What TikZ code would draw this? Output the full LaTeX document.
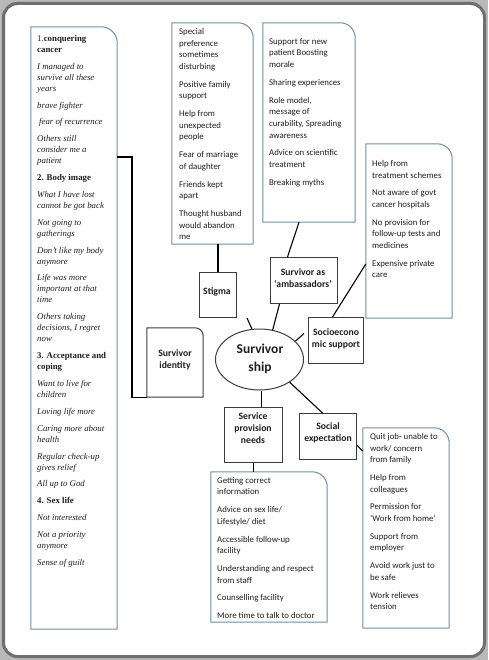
\documentclass[tikz,border=0pt]{standalone}
\usepackage{fontspec}
\setmainfont{Liberation Serif}
\newfontfamily\carl{Carlito}
\usetikzlibrary{fit,shapes.geometric}
\definecolor{boxblue}{RGB}{110,144,170}
\definecolor{boxgray}{RGB}{60,60,60}
\definecolor{framegray}{RGB}{110,110,110}
\definecolor{outgray}{RGB}{185,185,185}
\definecolor{txt}{RGB}{30,30,30}
\newcommand{\ibox}[7][15]{%
  \coordinate (#3-nw) at (#4,#5);
  \coordinate (#3-se) at (#6,#7);
  \node[fit=(#3-nw)(#3-se), inner sep=0pt] (#3) {};
  \draw[#2] (#3.south west) -- (#3.north west) -- ([xshift=-#1pt]#3.north east)
     .. controls ([xshift={-0.45*#1pt}]#3.north east) and ([yshift={-0.45*#1pt}]#3.north east) .. ([yshift=-#1pt]#3.north east) -- (#3.south east) -- cycle;
}
\newcommand{\pgl}{\\[5.85pt]}
\newcommand{\pgs}{\\[6pt]}
\begin{document}
\begin{tikzpicture}[x=1pt,y=-1pt,
  itembox/.style={draw=boxblue, line width=1pt},
  labbox/.style={draw=boxgray, line width=1pt},
  conn/.style={draw=black, line width=1.1pt},
  itemtxt/.style={anchor=north west, inner sep=0pt, align=left, text=txt, font=\carl\fontsize{8.8}{11.7}\selectfont},
  littxt/.style={anchor=north west, inner sep=0pt, align=left, text=txt, font=\fontsize{8.8}{11}\selectfont},
  labtxt/.style={inner sep=0pt, align=center, text=txt, font=\carl\bfseries\fontsize{9.7}{12}\selectfont},
  lab/.style={labbox, anchor=north west, inner sep=0pt}]
\useasboundingbox (0,0) rectangle (488,660);
\fill[outgray] (0,0) rectangle (488,660);
\fill[white, rounded corners=14pt] (3.5,3.5) rectangle (484.5,656.5);
\draw[framegray, line width=3pt, rounded corners=14pt] (3.5,3.5) rectangle (484.5,656.5);

% item boxes
\ibox[16]{itembox}{lp}{31}{27}{117}{629}
\ibox{itembox}{stbox}{172}{23}{253}{244}
\ibox{itembox}{ambbox}{263}{23}{355}{222}
\ibox{itembox}{socbox}{366}{144}{452}{318}
\ibox{itembox}{svbox}{211}{472}{327}{622}
\ibox{itembox}{sebox}{363}{428}{449}{628}
\ibox[8]{labbox}{ident}{147}{328}{203}{397}

% item texts
\node[littxt] (lptxt) at (37,35) {%
1.\textbf{conquering}\\ \textbf{cancer}\pgl
\textit{I managed to}\\ \textit{survive all these}\\ \textit{years}\pgl
\textit{brave fighter}\pgl
\hspace{2pt}\textit{fear of recurrence}\pgl
\textit{Others still}\\ \textit{consider me a}\\ \textit{patient}\pgl
\textbf{2. Body image}\pgl
\textit{What I have lost}\\ \textit{cannot be got back}\pgl
\textit{Not going to}\\ \textit{gatherings}\pgl
\textit{Don’t like my body}\\ \textit{anymore}\pgl
\textit{Life was more}\\ \textit{important at that}\\ \textit{time}\pgl
\textit{Others taking}\\ \textit{decisions, I regret}\\ \textit{now}\pgl
\textbf{3. Acceptance and}\\ \textbf{coping}\pgl
\textit{Want to live for}\\ \textit{children}\pgl
\textit{Loving life more}\pgl
\textit{Caring more about}\\ \textit{health}\pgl
\textit{Regular check-up}\\ \textit{gives relief}\pgl
\textit{All up to God}\pgl
\textbf{4. Sex life}\pgl
\textit{Not interested}\pgl
\textit{Not a priority}\\ \textit{anymore}\pgl
\textit{Sense of guilt}};

\node[itemtxt] (sttxt) at (179,28) {%
Special\\ preference\\ sometimes\\ disturbing\pgs
Positive family\\ support\pgs
Help from\\ unexpected\\ people\pgs
Fear of marriage\\ of daughter\pgs
Friends kept\\ apart\pgs
Thought husband\\ would abandon\\ me};

\node[itemtxt] (ambtxt) at (269,38) {%
Support for new\\ patient Boosting\\ morale\pgs
Sharing experiences\pgs
Role model,\\ message of\\ curability, Spreading\\ awareness\pgs
Advice on scientific\\ treatment\pgs
Breaking myths};

\node[itemtxt] (soctxt) at (372,160) {%
Help from\\ treatment schemes\pgs
Not aware of govt\\ cancer hospitals\pgs
No provision for\\ follow-up tests and\\ medicines\pgs
Expensive private\\ care};

\node[itemtxt] (svtxt) at (217,477) {%
Getting correct\\ information\pgs
Advice on sex life/\\ Lifestyle/ diet\pgs
Accessible follow-up\\ facility\pgs
Understanding and respect\\ from staff\pgs
Counselling facility\pgs
More time to talk to doctor};

\node[itemtxt] (setxt) at (370,433) {%
Quit job- unable to\\ work/ concern\\ from family\pgs
Help from\\ colleagues\pgs
Permission for\\ ‘Work from home’\pgs
Support from\\ employer\pgs
Avoid work just to\\ be safe\pgs
Work relieves\\ tension};

% label boxes
\node[lab, minimum width=37pt, minimum height=45pt] (stigma) at (199,272) {};
\node[lab, minimum width=67pt, minimum height=46pt] (amb) at (270,257) {};
\node[lab, minimum width=55pt, minimum height=46pt] (socio) at (308,317) {};
\node[lab, minimum width=58pt, minimum height=55pt] (service) at (224,407) {};
\node[lab, minimum width=57pt, minimum height=46pt] (social) at (299,413) {};
\node[draw=boxgray, line width=1pt, ellipse, minimum width=88pt, minimum height=61pt, inner sep=0pt] (ship) at (259.5,359.5) {};

\node[labtxt] (tstigma) at (217,292) {Stigma};
\node[labtxt] (tamb) at (303,278) {Survivor as\\‘ambassadors’};
\node[labtxt] (tsocio) at (336,339) {Socioecono\\mic support};
\node[labtxt] (tservice) at (253,428) {Service\\provision\\needs};
\node[labtxt] (tsocial) at (328,433) {Social\\expectation};
\node[labtxt] (tident) at (175,360) {Survivor\\identity};
\node[inner sep=0pt, align=center, text=txt, font=\carl\bfseries\fontsize{13.5}{17.5}\selectfont] (tship) at (260,359) {Survivor\\ship};

% connectors
\coordinate (j1) at (132,157);
\draw[conn] (lp.east |- j1) -- (j1) |- (ident.south west);
\draw[conn] (stigma.north) -- (stigma.north |- stbox.south);
\coordinate (s1) at (247,318);
\draw[conn] (s1) -- (ship.104);
\draw[conn] ([xshift=-10pt]ambbox.south) -- ([xshift=-16.5pt]amb.north);
\draw[conn] ([xshift=-24.5pt]amb.south) -- (ship.66);
\coordinate (c264) at (0,264);
\draw[conn] (socbox.west |- c264) -- ([xshift=-3.5pt]socio.north);
\draw[conn] (ship.27) -- ([xshift=-4pt,yshift=7pt]socio.west);
\draw[conn] ([xshift=2pt]ship.south) -- ([xshift=2pt]ship.south |- service.north);
\draw[conn] (ship.323) -- ([xshift=-5.5pt]social.north);
\coordinate (c451) at (0,451);
\draw[conn] ([yshift=-9pt]social.east) -- (sebox.west |- c451);
\draw[conn] (service.south) -- (service.south |- svbox.north);
\end{tikzpicture}
\end{document}
